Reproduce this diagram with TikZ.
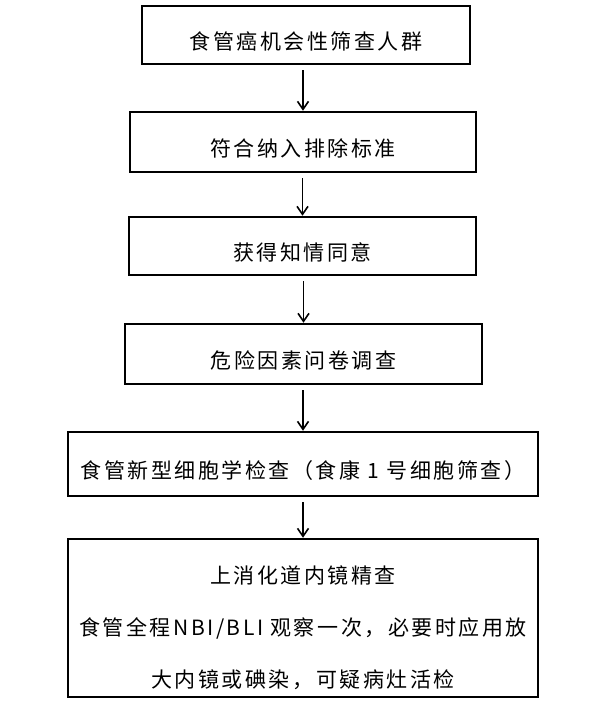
\documentclass[tikz,border=0pt]{standalone}
\usepackage{fontspec}
\usetikzlibrary{arrows.meta}
\newfontfamily\cjk[LetterSpace=12]{Noto Sans CJK SC}
\tikzstyle{step_box}=[rectangle,draw=black,line width=2.5pt,fill=white,
  font=\cjk\fontsize{21}{52}\selectfont,align=center,inner sep=0pt,
  execute at begin node={\rule{0pt}{31pt}}]
\tikzstyle{flow}=[draw=black,line width=1.6pt,
  -{Straight Barb[length=8pt,width=11pt,line width=1.6pt]},shorten <=5pt]
\tikzstyle{none}=[]

\begin{document}
\begin{tikzpicture}[x=1pt,y=-1pt]
		\useasboundingbox (0,0) rectangle (600,708);
		\node [style=step_box,minimum width=328pt,minimum height=58pt] (0) at (306, 35) {食管癌机会性筛查人群};
		\node [style=step_box,minimum width=346pt,minimum height=60pt] (1) at (303, 142) {符合纳入排除标准};
		\node [style=step_box,minimum width=347pt,minimum height=58pt] (2) at (302.5, 246) {获得知情同意};
		\node [style=step_box,minimum width=357pt,minimum height=60pt] (3) at (303.5, 354) {危险因素问卷调查};
		\node [style=step_box,minimum width=470pt,minimum height=64pt] (4) at (303, 464) {食管新型细胞学检查（食康 1 号细胞筛查）};
		\node [style=step_box,minimum width=470pt,minimum height=158pt] (5) at (303, 618) {\rule{0pt}{37pt}上消化道内镜精查\\食管全程NBI/BLI 观察一次，必要时应用放\\大内镜或碘染，可疑病灶活检};
		\draw [style=flow] (0.south -| 1.north) to (1.north);
		\draw [style=flow] (1.south -| 2.north) to (2.north);
		\draw [style=flow] (2.south -| 3.north) to (3.north);
		\draw [style=flow] (3.south -| 4.north) to (4.north);
		\draw [style=flow] (4.south) to (5.north);
\end{tikzpicture}
\end{document}
